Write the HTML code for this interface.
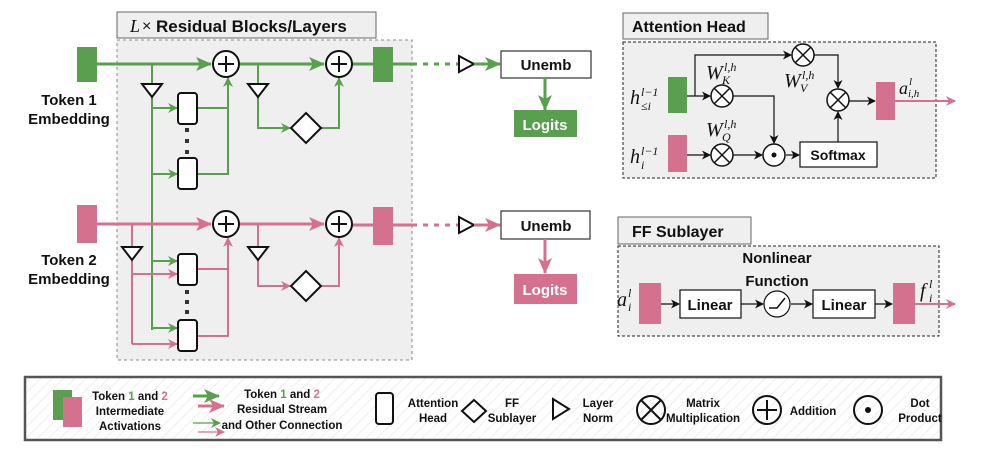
<!DOCTYPE html>
<html><head><meta charset="utf-8"><style>
html,body{margin:0;padding:0;background:#fff;}
svg{display:block;}
text{font-family:"Liberation Sans",sans-serif;font-weight:bold;fill:#111;}
.m{font-family:"Liberation Serif",serif;font-style:italic;font-weight:normal;}
</style></head><body>
<svg width="997" height="454" viewBox="0 0 997 454" xmlns="http://www.w3.org/2000/svg">
<defs>
<marker id="ag" markerWidth="10" markerHeight="10" refX="9" refY="5" orient="auto" markerUnits="userSpaceOnUse"><path d="M0,0 L10,5 L0,10 L3,5 Z" fill="#5a9e4f"/></marker>
<marker id="agL" markerWidth="16" markerHeight="14" refX="15" refY="7" orient="auto" markerUnits="userSpaceOnUse"><path d="M0,0 L16,7 L0,14 L4,7 Z" fill="#5a9e4f"/></marker>
<marker id="ap" markerWidth="10" markerHeight="10" refX="9" refY="5" orient="auto" markerUnits="userSpaceOnUse"><path d="M0,0 L10,5 L0,10 L3,5 Z" fill="#d4718f"/></marker>
<marker id="apL" markerWidth="16" markerHeight="14" refX="15" refY="7" orient="auto" markerUnits="userSpaceOnUse"><path d="M0,0 L16,7 L0,14 L4,7 Z" fill="#d4718f"/></marker>
<marker id="ak" markerWidth="9" markerHeight="9" refX="8" refY="4.5" orient="auto" markerUnits="userSpaceOnUse"><path d="M0,0 L9,4.5 L0,9 L2.5,4.5 Z" fill="#111"/></marker>
<pattern id="hatch" width="8" height="8" patternUnits="userSpaceOnUse" patternTransform="rotate(45)"><rect width="8" height="8" fill="#fff"/><line x1="0" y1="0" x2="0" y2="8" stroke="#e9e9e9" stroke-width="1.5"/></pattern>
<g id="plus"><circle r="13" fill="#fff" stroke="#111" stroke-width="2"/><path d="M-8,0H8M0,-8V8" stroke="#111" stroke-width="2"/></g>
<g id="times"><circle r="11" fill="#fff" stroke="#111" stroke-width="1.5"/><path d="M-7.5,-7.5L7.5,7.5M7.5,-7.5L-7.5,7.5" stroke="#111" stroke-width="1.5"/></g>
<g id="ln"><path d="M-10,0 L10,0 L0,13 Z" fill="#fff" stroke="#111" stroke-width="2"/></g>
<g id="head"><rect x="0" y="0" width="19" height="31" rx="3" fill="#fff" stroke="#111" stroke-width="2"/></g>
<g id="dia"><path d="M0,-15 L15,0 L0,15 L-15,0 Z" fill="#fff" stroke="#111" stroke-width="2"/></g>
</defs>

<rect x="117" y="40" width="295" height="320" fill="#efefef" stroke="#888" stroke-width="1" stroke-dasharray="3,3"/>
<rect x="117" y="12" width="259" height="26" fill="#efefef" stroke="#666" stroke-width="1"/>
<text x="130" y="32" class="m" style="font-size:18px">L</text>
<text x="142" y="31" font-size="16" style="font-weight:normal">×</text>
<text x="156" y="32" font-size="17">Residual Blocks/Layers</text>

<text x="69" y="105" font-size="15" text-anchor="middle">Token 1</text>
<text x="69" y="124" font-size="15" text-anchor="middle">Embedding</text>
<text x="69" y="265" font-size="15" text-anchor="middle">Token 2</text>
<text x="69" y="284" font-size="15" text-anchor="middle">Embedding</text>

<line x1="97" y1="64" x2="211" y2="64" stroke="#5a9e4f" stroke-width="3" marker-end="url(#agL)"/>
<line x1="239" y1="64" x2="324" y2="64" stroke="#5a9e4f" stroke-width="3" marker-end="url(#agL)"/>
<line x1="352" y1="64" x2="412" y2="64" stroke="#5a9e4f" stroke-width="3"/>
<line x1="412" y1="64" x2="458" y2="64" stroke="#5a9e4f" stroke-width="3" stroke-dasharray="5,6"/>
<polyline points="152,64 152,330" fill="none" stroke="#5a9e4f" stroke-width="2"/>
<line x1="152" y1="108" x2="177" y2="108" stroke="#5a9e4f" stroke-width="2" marker-end="url(#ag)"/>
<line x1="152" y1="174" x2="177" y2="174" stroke="#5a9e4f" stroke-width="2" marker-end="url(#ag)"/>
<line x1="152" y1="261" x2="177" y2="261" stroke="#5a9e4f" stroke-width="2" marker-end="url(#ag)"/>
<line x1="152" y1="328" x2="177" y2="328" stroke="#5a9e4f" stroke-width="2" marker-end="url(#ag)"/>
<polyline points="197,108 228,108" fill="none" stroke="#5a9e4f" stroke-width="2"/>
<polyline points="197,174 228,174 228,78" fill="none" stroke="#5a9e4f" stroke-width="2" marker-end="url(#ag)"/>
<polyline points="258,64 258,128 290,128" fill="none" stroke="#5a9e4f" stroke-width="2" marker-end="url(#ag)"/>
<polyline points="321,128 339,128 339,78" fill="none" stroke="#5a9e4f" stroke-width="2" marker-end="url(#ag)"/>
<rect x="77" y="47" width="20" height="35" fill="#5a9e4f"/>
<rect x="373" y="47" width="20" height="35" fill="#5a9e4f"/>
<use href="#plus" x="226" y="64"/><use href="#plus" x="339" y="64"/>
<use href="#ln" x="152" y="84"/><use href="#ln" x="258" y="84"/>
<use href="#head" x="178" y="93"/><use href="#head" x="178" y="158"/>
<use href="#dia" x="306" y="128"/>
<g fill="#333"><rect x="185" y="128" width="4" height="4"/><rect x="185" y="139" width="4" height="4"/><rect x="185" y="150" width="4" height="4"/></g>

<line x1="97" y1="224" x2="211" y2="224" stroke="#d4718f" stroke-width="3" marker-end="url(#apL)"/>
<line x1="239" y1="224" x2="324" y2="224" stroke="#d4718f" stroke-width="3" marker-end="url(#apL)"/>
<line x1="352" y1="225" x2="412" y2="225" stroke="#d4718f" stroke-width="3"/>
<line x1="412" y1="225" x2="458" y2="225" stroke="#d4718f" stroke-width="3" stroke-dasharray="5,6"/>
<polyline points="132,224 132,344" fill="none" stroke="#d4718f" stroke-width="2"/>
<line x1="132" y1="274" x2="177" y2="274" stroke="#d4718f" stroke-width="2" marker-end="url(#ap)"/>
<line x1="132" y1="344" x2="177" y2="344" stroke="#d4718f" stroke-width="2" marker-end="url(#ap)"/>
<polyline points="197,269 228,269" fill="none" stroke="#d4718f" stroke-width="2"/>
<polyline points="197,336 228,336 228,238" fill="none" stroke="#d4718f" stroke-width="2" marker-end="url(#ap)"/>
<polyline points="258,224 258,286 290,286" fill="none" stroke="#d4718f" stroke-width="2" marker-end="url(#ap)"/>
<polyline points="321,286 339,286 339,238" fill="none" stroke="#d4718f" stroke-width="2" marker-end="url(#ap)"/>
<rect x="77" y="205" width="20" height="38" fill="#d4718f"/>
<rect x="373" y="207" width="20" height="38" fill="#d4718f"/>
<use href="#plus" x="226" y="224"/><use href="#plus" x="339" y="224"/>
<use href="#ln" x="132" y="247"/><use href="#ln" x="258" y="247"/>
<use href="#head" x="178" y="254"/><use href="#head" x="178" y="320"/>
<use href="#dia" x="306" y="286"/>
<g fill="#333"><rect x="185" y="290" width="4" height="4"/><rect x="185" y="300" width="4" height="4"/><rect x="185" y="310" width="4" height="4"/></g>

<path d="M459,56 L474,64 L459,72 Z" fill="#fff" stroke="#111" stroke-width="2"/>
<line x1="474" y1="64" x2="500" y2="64" stroke="#5a9e4f" stroke-width="3" marker-end="url(#agL)"/>
<rect x="501" y="51" width="90" height="27" fill="#fff" stroke="#333" stroke-width="1.2"/>
<text x="546" y="70" font-size="15" text-anchor="middle">Unemb</text>
<line x1="545" y1="78" x2="545" y2="110" stroke="#5a9e4f" stroke-width="3" marker-end="url(#agL)"/>
<rect x="514" y="110" width="63" height="27" fill="#5a9e4f"/>
<text x="545" y="130" font-size="15" text-anchor="middle" style="fill:#fff">Logits</text>

<path d="M459,217 L474,225 L459,233 Z" fill="#fff" stroke="#111" stroke-width="2"/>
<line x1="474" y1="225" x2="500" y2="225" stroke="#d4718f" stroke-width="3" marker-end="url(#apL)"/>
<rect x="501" y="211" width="89" height="28" fill="#fff" stroke="#333" stroke-width="1.2"/>
<text x="546" y="231" font-size="15" text-anchor="middle">Unemb</text>
<line x1="545" y1="239" x2="545" y2="273" stroke="#d4718f" stroke-width="3" marker-end="url(#apL)"/>
<rect x="514" y="274" width="63" height="30" fill="#d4718f"/>
<text x="545" y="295" font-size="15" text-anchor="middle" style="fill:#fff">Logits</text>

<rect x="623" y="42" width="313" height="136" fill="#efefef" stroke="#222" stroke-width="1" stroke-dasharray="3,2"/>
<rect x="623" y="13" width="145" height="26" fill="#efefef" stroke="#666" stroke-width="1"/>
<text x="632" y="32" font-size="16">Attention Head</text>
<line x1="687" y1="96" x2="710" y2="96" stroke="#111" stroke-width="1.2" marker-end="url(#ak)"/>
<polyline points="695,96 695,55 791,55" fill="none" stroke="#111" stroke-width="1.2" marker-end="url(#ak)"/>
<polyline points="733,96 774,96 774,143" fill="none" stroke="#111" stroke-width="1.2" marker-end="url(#ak)"/>
<polyline points="814,55 838,55 838,88" fill="none" stroke="#111" stroke-width="1.2" marker-end="url(#ak)"/>
<line x1="687" y1="155" x2="710" y2="155" stroke="#111" stroke-width="1.2" marker-end="url(#ak)"/>
<line x1="733" y1="155" x2="762" y2="155" stroke="#111" stroke-width="1.2" marker-end="url(#ak)"/>
<line x1="786" y1="155" x2="799" y2="155" stroke="#111" stroke-width="1.2" marker-end="url(#ak)"/>
<line x1="838" y1="142" x2="838" y2="112" stroke="#111" stroke-width="1.2" marker-end="url(#ak)"/>
<line x1="849" y1="101" x2="875" y2="101" stroke="#111" stroke-width="1.2" marker-end="url(#ak)"/>
<line x1="895" y1="101" x2="955" y2="101" stroke="#d4718f" stroke-width="2" marker-end="url(#ap)"/>
<rect x="668" y="77" width="19" height="36" fill="#5a9e4f"/>
<rect x="668" y="135" width="19" height="37" fill="#d4718f"/>
<rect x="876" y="82" width="19" height="38" fill="#d4718f"/>
<use href="#times" x="722" y="96"/><use href="#times" x="803" y="55"/><use href="#times" x="838" y="100"/><use href="#times" x="722" y="155"/>
<circle cx="774" cy="155" r="11" fill="#fff" stroke="#111" stroke-width="1.5"/><circle cx="774" cy="155" r="2.5" fill="#111"/>
<rect x="800" y="142" width="77" height="25" fill="#fff" stroke="#111" stroke-width="1.2"/>
<text x="838" y="160" font-size="14" text-anchor="middle">Softmax</text>
<text x="630" y="104" class="m" font-size="20">h</text><text x="641" y="96" class="m" font-size="12">l−1</text><text x="641" y="110" class="m" font-size="12">≤i</text>
<text x="630" y="163" class="m" font-size="20">h</text><text x="641" y="155" class="m" font-size="12">l−1</text><text x="641" y="169" class="m" font-size="12">i</text>
<text x="706" y="79" class="m" font-size="20">W</text><text x="724" y="71" class="m" font-size="12">l,h</text><text x="722" y="84" class="m" font-size="12">K</text>
<text x="784" y="87" class="m" font-size="20">W</text><text x="802" y="79" class="m" font-size="12">l,h</text><text x="800" y="92" class="m" font-size="12">V</text>
<text x="706" y="136" class="m" font-size="20">W</text><text x="724" y="128" class="m" font-size="12">l,h</text><text x="722" y="141" class="m" font-size="12">Q</text>
<text x="899" y="94" class="m" font-size="18">a</text><text x="909" y="85" class="m" font-size="11">l</text><text x="908" y="97" class="m" font-size="11">i,h</text>

<rect x="618" y="246" width="321" height="90" fill="#efefef" stroke="#222" stroke-width="1" stroke-dasharray="3,2"/>
<rect x="618" y="217" width="133" height="27" fill="#efefef" stroke="#666" stroke-width="1"/>
<text x="632" y="237" font-size="16">FF Sublayer</text>
<text x="777" y="263" font-size="15" text-anchor="middle">Nonlinear</text>
<text x="777" y="286" font-size="15" text-anchor="middle">Function</text>
<line x1="661" y1="304" x2="679" y2="304" stroke="#111" stroke-width="1.2" marker-end="url(#ak)"/>
<line x1="741" y1="304" x2="763" y2="304" stroke="#111" stroke-width="1.2" marker-end="url(#ak)"/>
<line x1="791" y1="304" x2="812" y2="304" stroke="#111" stroke-width="1.2" marker-end="url(#ak)"/>
<line x1="875" y1="304" x2="892" y2="304" stroke="#111" stroke-width="1.2" marker-end="url(#ak)"/>
<line x1="915" y1="304" x2="955" y2="304" stroke="#d4718f" stroke-width="2" marker-end="url(#ap)"/>
<rect x="639" y="283" width="22" height="41" fill="#d4718f"/>
<rect x="893" y="283" width="22" height="41" fill="#d4718f"/>
<rect x="680" y="290" width="61" height="28" fill="#fff" stroke="#111" stroke-width="1.2"/>
<text x="710" y="310" font-size="15" text-anchor="middle">Linear</text>
<rect x="813" y="290" width="62" height="28" fill="#fff" stroke="#111" stroke-width="1.2"/>
<text x="844" y="310" font-size="15" text-anchor="middle">Linear</text>
<circle cx="777" cy="304" r="13" fill="#fff" stroke="#111" stroke-width="1.2"/>
<polyline points="769,308 777,308 785,298" fill="none" stroke="#111" stroke-width="1.5"/>
<text x="617" y="306" class="m" font-size="20">a</text><text x="628" y="297" class="m" font-size="12">l</text><text x="628" y="311" class="m" font-size="12">i</text>
<text x="920" y="297" class="m" font-size="20">f</text><text x="929" y="288" class="m" font-size="12">l</text><text x="929" y="302" class="m" font-size="12">i</text>

<rect x="25" y="377" width="916" height="63" fill="url(#hatch)" stroke="#555" stroke-width="2.5"/>
<rect x="53" y="390" width="19" height="30" fill="#5a9e4f"/>
<rect x="63" y="397" width="19" height="30" fill="#d4718f"/>
<g font-size="11.5" text-anchor="middle">
<text x="130" y="400">Token <tspan style="fill:#5a9e4f">1</tspan> and <tspan style="fill:#d4718f">2</tspan></text>
<text x="130" y="415">Intermediate</text>
<text x="130" y="430">Activations</text>
<text x="282" y="398">Token <tspan style="fill:#5a9e4f">1</tspan> and <tspan style="fill:#d4718f">2</tspan></text>
<text x="282" y="413">Residual Stream</text>
<text x="282" y="429">and Other Connection</text>
<text x="433" y="407">Attention</text><text x="433" y="422">Head</text>
<text x="512" y="407">FF</text><text x="512" y="422">Sublayer</text>
<text x="598" y="407">Layer</text><text x="598" y="422">Norm</text>
<text x="703" y="407">Matrix</text><text x="703" y="422">Multiplication</text>
<text x="813" y="415">Addition</text>
<text x="920" y="407">Dot</text><text x="920" y="422">Product</text>
</g>
<line x1="193" y1="396" x2="219" y2="396" stroke="#5a9e4f" stroke-width="3" marker-end="url(#agL)"/>
<line x1="198" y1="406" x2="224" y2="406" stroke="#d4718f" stroke-width="3" marker-end="url(#apL)"/>
<line x1="193" y1="423" x2="220" y2="423" stroke="#5a9e4f" stroke-width="1.2" marker-end="url(#ag)"/>
<line x1="198" y1="432" x2="224" y2="432" stroke="#d4718f" stroke-width="1.2" marker-end="url(#ap)"/>
<rect x="376" y="393" width="17" height="31" rx="3" fill="#fff" stroke="#111" stroke-width="2"/>
<path d="M474,400 L486,411 L474,422 L462,411 Z" fill="#fff" stroke="#111" stroke-width="2"/>
<path d="M553,399 L569,409 L553,419 Z" fill="#fff" stroke="#111" stroke-width="2"/>
<circle cx="651" cy="410" r="14" fill="none" stroke="#111" stroke-width="2"/>
<path d="M641,400 L661,420 M661,400 L641,420" stroke="#111" stroke-width="2"/>
<circle cx="767" cy="410" r="14" fill="none" stroke="#111" stroke-width="2"/>
<path d="M757,410 H777 M767,400 V420" stroke="#111" stroke-width="2"/>
<circle cx="868" cy="410" r="14" fill="none" stroke="#111" stroke-width="2"/>
<circle cx="868" cy="410" r="3" fill="#111"/>
</svg>
</body></html>
